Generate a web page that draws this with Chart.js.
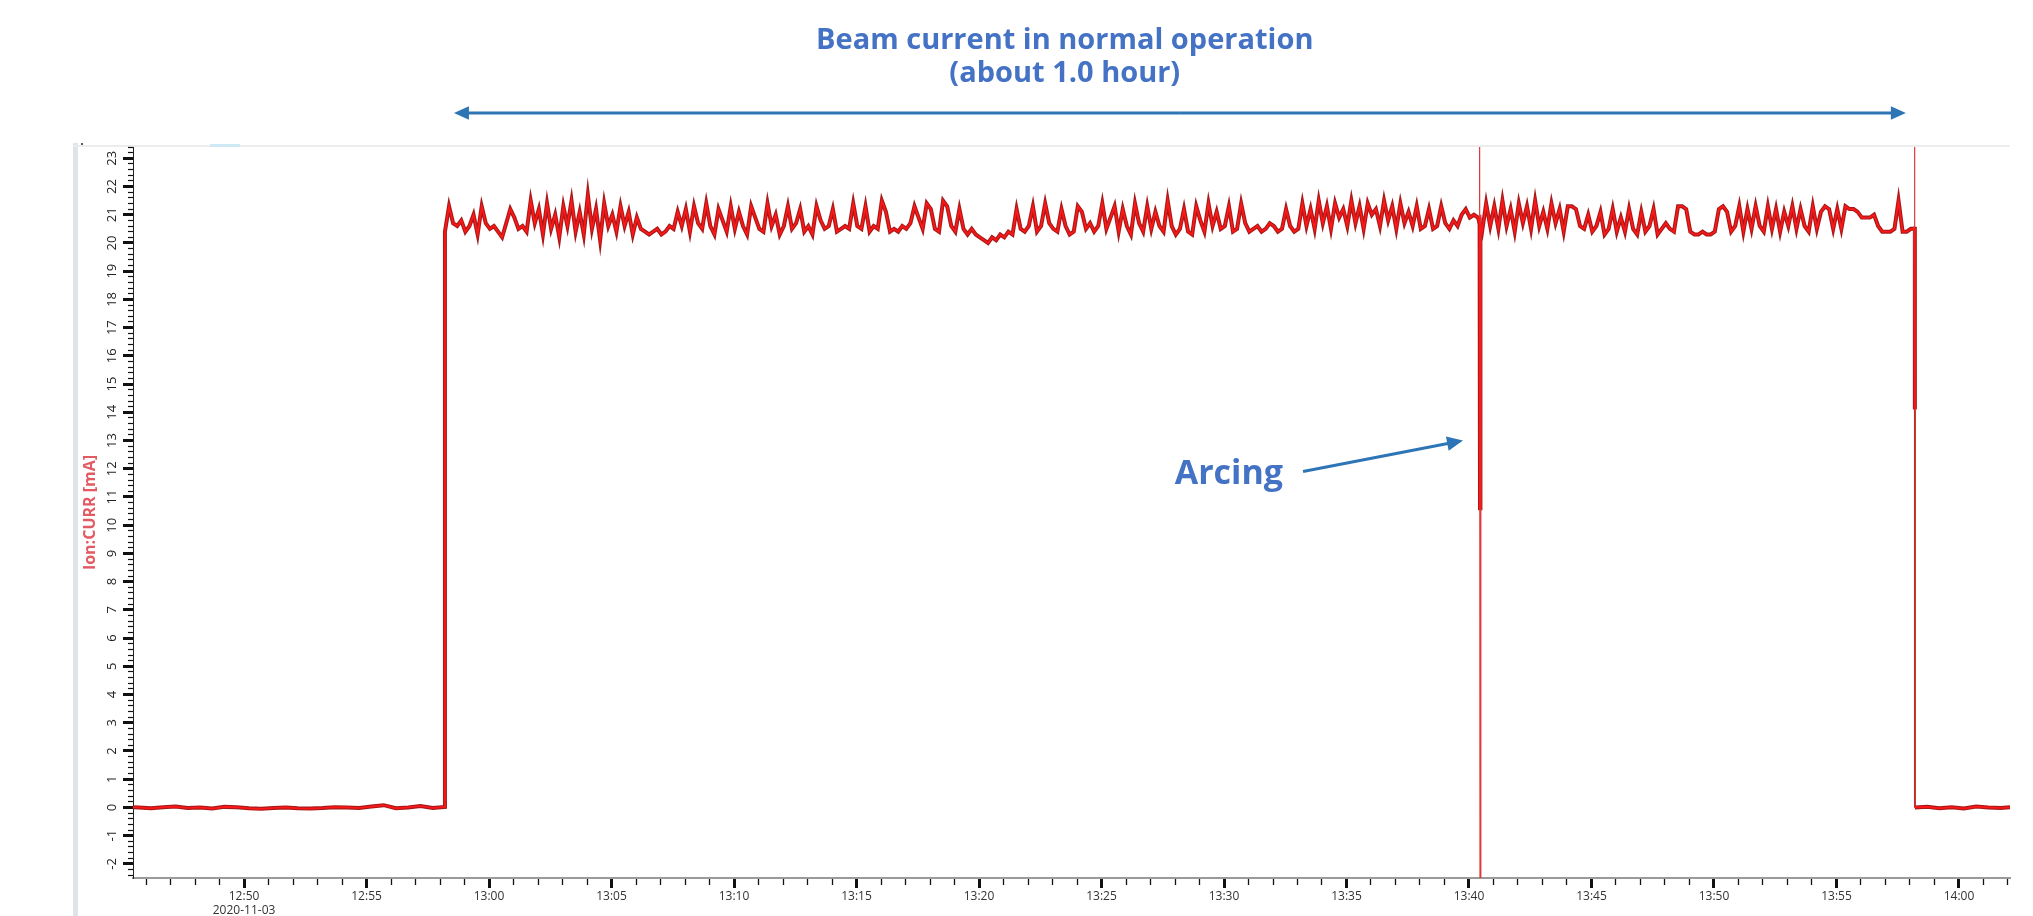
<!DOCTYPE html>
<html>
<head>
<meta charset="utf-8">
<title>Ion:CURR beam current</title>
<script src="https://cdn.jsdelivr.net/npm/chart.js@4.4.1/dist/chart.umd.min.js"></script>
<style>
  html, body { margin: 0; padding: 0; background: #fff; overflow: hidden; }
  #chart { display: block; }
</style>
</head>
<body>
<canvas id="chart" width="2033" height="916"></canvas>
<script>
//------------------------------------------------------------------------------
// Data (times are hh:mm:ss, values in mA)
//------------------------------------------------------------------------------
const axisStart = '12:45:28'
const axisEnd = '14:02:05'
const dateLabel = '2020-11-03'
const yMin = -2.5
const yMax = 23.4

// before beam on, one sample every 30 s
const offBeforeStart = '12:45:12'
const offBeforeStep = 30
const offBeforeValues = [0.02, 0.00, -0.03, 0.01, 0.03, -0.02, 0.00, -0.04, 0.02, 0.01,
    -0.03, -0.05, -0.02, 0.00, -0.03, -0.04, -0.02, 0.01, 0.00, -0.02,
    0.03, 0.08, -0.03, 0.00, 0.05, -0.02, 0.02]

// beam on, one sample every 10 s (one row per minute)
const beamOnTime = '12:58:12'
const beamStep = 10
const beamValues = [
    20.4, 21.3, 20.7, 20.6, 20.8, 20.4,
    20.6, 21.0, 20.3, 21.3, 20.7, 20.5,
    20.6, 20.4, 20.2, 20.7, 21.2, 20.9,
    20.5, 20.6, 20.4, 21.5, 20.7, 21.2,
    20.3, 21.4, 20.5, 21.0, 20.2, 21.3,
    20.6, 21.5, 20.4, 21.1, 20.3, 21.7,
    20.5, 21.2, 20.1, 21.4, 20.6, 21.0,
    20.4, 21.3, 20.6, 21.1, 20.3, 20.9,
    20.5, 20.4, 20.3, 20.4, 20.5, 20.3,
    20.4, 20.6, 20.5, 21.1, 20.6, 21.2,
    20.4, 21.3, 20.7, 20.5, 21.4, 20.6,
    20.3, 21.2, 20.8, 20.4, 21.3, 20.5,
    21.1, 20.6, 20.3, 21.3, 20.9, 20.5,
    20.4, 21.4, 20.6, 21.0, 20.3, 20.6,
    21.3, 20.5, 20.7, 21.2, 20.4, 20.6,
    20.3, 21.3, 20.8, 20.5, 20.6, 21.2,
    20.4, 20.5, 20.6, 20.5, 21.4, 20.6,
    20.5, 21.3, 20.4, 20.6, 20.5, 21.5,
    21.1, 20.4, 20.5, 20.4, 20.6, 20.5,
    20.7, 21.3, 20.9, 20.5, 21.4, 21.2,
    20.5, 20.4, 21.5, 21.3, 20.6, 20.4,
    21.2, 20.5, 20.3, 20.5, 20.3, 20.2,
    20.1, 20.0, 20.2, 20.1, 20.3, 20.2,
    20.4, 20.3, 21.2, 20.5, 20.4, 20.6,
    21.3, 20.4, 20.6, 21.4, 20.7, 20.5,
    20.4, 21.2, 20.6, 20.3, 20.4, 21.3,
    21.1, 20.5, 20.7, 20.4, 20.6, 21.4,
    20.5, 20.9, 21.3, 20.4, 21.2, 20.6,
    20.3, 21.4, 20.7, 20.4, 21.3, 20.5,
    21.1, 20.6, 20.4, 21.5, 20.6, 20.3,
    20.5, 21.2, 20.4, 20.3, 21.3, 20.8,
    20.4, 21.4, 20.6, 21.1, 20.5, 20.6,
    21.3, 20.4, 20.5, 21.4, 20.7, 20.4,
    20.5, 20.6, 20.4, 20.5, 20.7, 20.6,
    20.4, 20.5, 21.2, 20.6, 20.4, 20.5,
    21.4, 20.6, 21.2, 20.5, 21.5, 20.7,
    21.3, 20.5, 21.4, 20.9, 21.2, 20.6,
    21.5, 20.7, 21.3, 20.5, 21.4, 21.0,
    21.2, 20.6, 21.5, 20.8, 21.3, 20.5,
    21.4, 20.7, 21.1, 20.6, 21.3, 20.5,
    20.6, 21.2, 20.5, 20.6, 21.3, 20.7,
    20.5, 20.8, 20.6, 21.0, 21.2, 20.9,
    21.0, 20.9, 20.4, 21.4, 20.6, 21.3,
    20.5, 21.5, 20.6, 21.2, 20.4, 21.4,
    20.7, 21.3, 20.5, 21.5, 20.6, 21.1,
    20.5, 21.4, 20.7, 21.2, 20.4, 21.3,
    21.3, 21.2, 20.6, 20.5, 21.0, 20.4,
    20.6, 21.1, 20.3, 20.5, 21.2, 20.4,
    20.9, 20.4, 21.2, 20.5, 20.3, 21.1,
    20.4, 20.6, 21.2, 20.3, 20.5, 20.7,
    20.5, 20.4, 21.3, 21.3, 21.2, 20.4,
    20.3, 20.3, 20.4, 20.3, 20.3, 20.4,
    21.2, 21.3, 21.1, 20.4, 20.6, 21.3,
    20.4, 21.2, 20.5, 21.3, 20.6, 20.4,
    21.3, 20.5, 21.2, 20.4, 21.1, 20.6,
    21.3, 20.5, 21.2, 20.6, 20.4, 21.3,
    20.5, 21.1, 21.3, 21.2, 20.5, 21.2,
    20.5, 21.3, 21.2, 21.2, 21.1, 20.9,
    20.9, 20.9, 21.0, 20.6, 20.4, 20.4,
    20.4, 20.5, 21.5, 20.4, 20.4, 20.5,
    20.5
]
// averaged trace falls to this level at beam off, raw trace continues to 0
const dropValue = 14.1

// after beam off, one sample every 30 s
const offAfterStart = '13:58:12'
const offAfterStep = 30
const offAfterValues = [0.00, 0.02, -0.03, 0.01, -0.04, 0.03, 0.00, -0.02, 0.01]

// arcing dip in the averaged trace
const arcTimes = ['13:40:26', '13:40:27', '13:40:28']
const arcValues = [20.9, 10.6, 20.7]

// raw spikes (thin trace), null splits the two events
const spikeTimes = ['13:40:25', '13:40:26', '13:40:27', '13:40:29', null, '13:58:10', '13:58:11', '13:58:12']
const spikeValues = [21.2, 24.5, -3.5, 21.0, null, 20.6, 24.5, 14.1]

const beamOffTime = '13:58:12'
const titleLines = ['Beam current in normal operation', '(about 1.0 hour)']
const titleTime = '13:23:30'
const arcLabel = 'Arcing'
const yTitle = 'Ion:CURR [mA]'

//------------------------------------------------------------------------------
// helpers
//------------------------------------------------------------------------------
function toMin(t) {
    const p = t.split(':').map(Number)
    return p[0] * 60 + p[1] + (p[2] || 0) / 60
}
function fmtMin(m) {
    const h = Math.floor(m / 60)
    const mm = Math.round(m - h * 60)
    return h + ':' + String(mm).padStart(2, '0')
}
function isWhole(v, step) {
    const r = v / step
    return Math.abs(r - Math.round(r)) < 1e-6
}

function sampled(start, stepSec, values) {
    const t0 = toMin(start)
    return values.map((v, i) => ({ x: t0 + i * stepSec / 60, y: v }))
}

const mainPoints = [].concat(
    sampled(offBeforeStart, offBeforeStep, offBeforeValues),
    sampled(beamOnTime, beamStep, beamValues),
    [{ x: toMin(beamOffTime), y: dropValue }],
    sampled(offAfterStart, offAfterStep, offAfterValues)
)
const arcPoints = arcTimes.map((t, i) => ({ x: toMin(t), y: arcValues[i] }))
const spikePoints = spikeTimes.map((t, i) => ({
    x: t ? toMin(t) : toMin(spikeTimes[i - 1]),
    y: spikeValues[i]
}))

const coreRed = '#ff1616'
const edgeRed = '#a81a1a'
const blueText = '#4472c4'
const blueArrow = '#2e75b6'
const fontFamily = "'Open Sans', 'Liberation Sans', sans-serif"

// the segment below the averaged drop level is the thin raw trace
function rawTail(ctx) {
    return ctx.p0.parsed.y === dropValue && ctx.p1.parsed.y < 1
}

function lineSet(points, color, width) {
    return {
        data: points,
        borderColor: color,
        borderWidth: width,
        pointRadius: 0,
        tension: 0,
        spanGaps: false,
        fill: false,
        segment: {
            borderWidth: ctx => rawTail(ctx) ? Math.min(width, 1.8) : undefined,
            borderColor: ctx => rawTail(ctx) ? '#c42a2a' : undefined
        }
    }
}

function drawArrow(ctx, x1, y1, x2, y2, head, width) {
    const a = Math.atan2(y2 - y1, x2 - x1)
    ctx.lineWidth = width
    ctx.beginPath()
    ctx.moveTo(x1, y1)
    ctx.lineTo(x2 - Math.cos(a) * head * 0.8, y2 - Math.sin(a) * head * 0.8)
    ctx.stroke()
    ctx.beginPath()
    ctx.moveTo(x2, y2)
    ctx.lineTo(x2 - head * Math.cos(a) + head * 0.45 * Math.sin(a), y2 - head * Math.sin(a) - head * 0.45 * Math.cos(a))
    ctx.lineTo(x2 - head * Math.cos(a) - head * 0.45 * Math.sin(a), y2 - head * Math.sin(a) + head * 0.45 * Math.cos(a))
    ctx.closePath()
    ctx.fill()
}

// frame around the trend window (left rail + top border)
const framePlugin = {
    id: 'frame',
    beforeDraw(chart) {
        const ctx = chart.ctx
        const area = chart.chartArea
        ctx.save()
        ctx.fillStyle = '#fff'
        ctx.fillRect(0, 0, chart.width, chart.height)
        ctx.fillStyle = '#dfe3ea'
        ctx.fillRect(73, area.top - 4, 5, chart.height - area.top + 4)
        ctx.fillStyle = '#ececec'
        ctx.fillRect(73, area.top - 2, area.right - 73, 2)
        ctx.fillStyle = '#cfeaf4'
        ctx.fillRect(210, area.top - 3, 30, 3)
        ctx.fillStyle = '#555'
        ctx.fillRect(81, area.top - 4, 2, 2)
        ctx.restore()
    }
}

// slide annotations: duration arrow + arcing pointer
const notePlugin = {
    id: 'notes',
    afterDraw(chart) {
        const ctx = chart.ctx
        const xs = chart.scales.x
        const ys = chart.scales.y
        const top = chart.chartArea.top
        ctx.save()
        ctx.fillStyle = blueText
        ctx.textAlign = 'center'
        ctx.textBaseline = 'middle'
        ctx.font = 'bold 29px ' + fontFamily
        const tx = xs.getPixelForValue(toMin(titleTime))
        ctx.fillText(titleLines[0], tx, top - 106)
        ctx.fillText(titleLines[1], tx, top - 73)

        ctx.strokeStyle = blueArrow
        ctx.fillStyle = blueArrow
        const xOn = xs.getPixelForValue(toMin(beamOnTime)) + 9
        const xOff = xs.getPixelForValue(toMin(beamOffTime)) - 9
        const ay = top - 34
        const mid = (xOn + xOff) / 2
        drawArrow(ctx, mid, ay, xOn, ay, 15, 3)
        drawArrow(ctx, mid, ay, xOff, ay, 15, 3)

        const xArc = xs.getPixelForValue(toMin(arcTimes[1]))
        drawArrow(ctx, xArc - 177, ys.getPixelForValue(11.9), xArc - 17, ys.getPixelForValue(13.0), 16, 3)
        ctx.fillStyle = blueText
        ctx.font = 'bold 34px ' + fontFamily
        ctx.textAlign = 'right'
        ctx.textBaseline = 'alphabetic'
        ctx.fillText(arcLabel, xArc - 197, ys.getPixelForValue(11.45))
        ctx.restore()
    }
}

new Chart(document.getElementById('chart'), {
    type: 'line',
    data: {
        datasets: [
            lineSet(mainPoints, coreRed, 1.7),
            lineSet(arcPoints, coreRed, 1.7),
            lineSet(spikePoints, '#e03a3a', 1.2),
            lineSet(mainPoints, edgeRed, 4),
            lineSet(arcPoints, edgeRed, 4)
        ]
    },
    options: {
        responsive: false,
        animation: false,
        devicePixelRatio: 1,
        layout: { padding: { left: 76, top: 147, right: 23, bottom: 0 } },
        plugins: {
            legend: { display: false },
            tooltip: { enabled: false }
        },
        scales: {
            x: {
                type: 'linear',
                min: toMin(axisStart),
                max: toMin(axisEnd),
                border: { display: true, color: '#9a9a9a', width: 2 },
                grid: {
                    drawOnChartArea: false,
                    tickLength: 10,
                    tickColor: '#111',
                    tickWidth: ctx => isWhole(ctx.tick.value, 5) ? 3 : 1.3,
                    tickBorderDash: ctx => isWhole(ctx.tick.value, 5) ? [] : [6, 100],
                    tickBorderDashOffset: 0
                },
                ticks: {
                    stepSize: 1,
                    autoSkip: false,
                    includeBounds: false,
                    minRotation: 0,
                    maxRotation: 0,
                    padding: 1,
                    color: '#333',
                    font: { family: fontFamily, size: 12 },
                    callback: v => {
                        if (!isWhole(v, 5)) return ''
                        const s = fmtMin(v)
                        return s === '12:50' ? [s, dateLabel] : s
                    }
                },
                afterFit: s => { s.height = 38 }
            },
            y: {
                min: yMin,
                max: yMax,
                border: { display: true, color: '#222', width: 1 },
                grid: {
                    drawOnChartArea: false,
                    tickLength: 10,
                    tickColor: '#111',
                    tickWidth: ctx => isWhole(ctx.tick.value, 1) ? 3 : 1.2,
                    tickBorderDash: ctx => isWhole(ctx.tick.value, 1) ? [] : [5, 100],
                    tickBorderDashOffset: ctx => isWhole(ctx.tick.value, 1) ? 0 : -5
                },
                ticks: {
                    stepSize: 0.2,
                    autoSkip: false,
                    includeBounds: false,
                    minRotation: 90,
                    maxRotation: 90,
                    crossAlign: 'center',
                    padding: 3,
                    color: '#222',
                    font: { family: fontFamily, size: 13 },
                    callback: v => isWhole(v, 1) ? String(Math.round(v)) : ''
                },
                title: {
                    display: true,
                    text: yTitle,
                    color: '#e25a62',
                    font: { family: fontFamily, size: 16, weight: 'bold' },
                    padding: { top: 5, bottom: 0 }
                },
                afterFit: s => { s.width = 57 }
            }
        }
    },
    plugins: [framePlugin, notePlugin]
})
</script>
</body>
</html>
